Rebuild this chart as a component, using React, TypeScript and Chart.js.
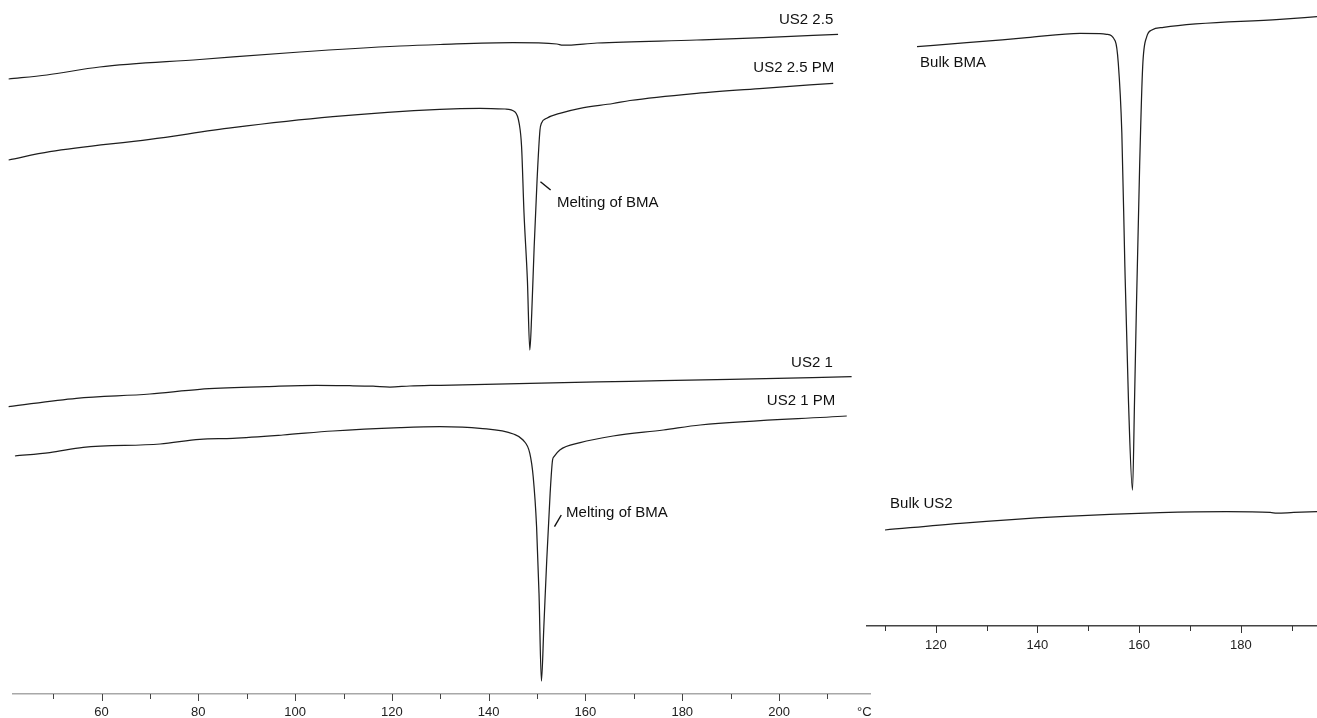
import React, { useEffect, useRef } from "react";
import { Chart, registerables } from "chart.js";

Chart.register(...registerables);

// ---------- Left panel (°C vs. arbitrary heat-flow units, exo up) ----------
const us2_25_T = [40.8, 48.7, 59.6, 80.3, 101.0, 121.7, 130.0, 145.0, 154.1, 155.3, 162.4, 183.0, 196.7, 212.2];
const us2_25_V = [621, 625, 633, 640.5, 648, 654, 655.5, 657.3, 656, 654.8, 657, 660, 662.3, 665.7];

const us2_25pm_T = [40.8, 49.3, 70.0, 87.1, 107.8, 129.9, 138.2, 143.4, 145.4, 146.3, 146.8, 147.3, 148.0, 148.5, 148.9, 149.4, 150.0, 150.6, 150.9, 152.0, 154.7, 158.9, 165.7, 169.2, 183.0, 196.7, 211.2];
const us2_25pm_V = [540, 548.3, 560.7, 572.3, 583.3, 590.7, 591.7, 591, 588.3, 576.7, 553.3, 487, 420, 350, 387, 453.3, 520, 570, 576.7, 581.7, 586.7, 591.7, 596.5, 599.5, 606.7, 611.7, 616.7];

const us2_1_T = [40.8, 54.8, 70.0, 80.3, 94.1, 104.4, 111.3, 116.1, 119.6, 123.7, 129.9, 148.5, 169.2, 189.9, 215.0];
const us2_1_V = [293.3, 301.7, 306, 310.7, 313.3, 314.7, 314.3, 313.8, 313.0, 314, 314.7, 316.7, 318.7, 320.7, 323.3];

const us2_1pm_T = [42.1, 49.3, 56.2, 72.1, 80.3, 87.1, 97.5, 107.8, 121.7, 129.9, 138.2, 145.1, 147.1, 148.5, 149.2, 149.9, 150.4, 150.9, 151.4, 152.0, 152.7, 153.2, 153.5, 154.7, 158.9, 165.7, 176.1, 183.7, 214.0];
const us2_1pm_V = [244, 247.3, 252.7, 256, 260.7, 261.7, 265, 269, 272.3, 273.3, 271.7, 266, 260, 246.7, 223.3, 173.3, 106.7, 19, 73.3, 140, 206.7, 240, 243.3, 250, 257.3, 264, 270, 275, 284];

// ---------- Right panel ----------
const bulkBMA_T = [116.3, 126.1, 137.9, 148.4, 152.3, 153.6, 155.3, 155.9, 156.6, 157.2, 157.9, 158.7, 159.1, 159.5, 160.1, 160.7, 161.5, 162.5, 164.8, 187.7, 195.0];
const bulkBMA_V = [653.3, 657.3, 662.3, 666.7, 666.4, 665.7, 659, 637, 567, 433, 300, 210, 300, 400, 533.3, 633.3, 663.3, 670, 672.7, 680.7, 683.3];

const bulkUS2_T = [110.0, 124.8, 144.5, 164.1, 177.2, 185.8, 187.1, 190.4, 195.0];
const bulkUS2_V = [170, 176.7, 183.3, 187.3, 188.3, 187.6, 186.8, 187.6, 188.3];

// ---------- Axis ranges and text ----------
const leftRange = { min: 41.7, max: 218.8, ymin: 6, ymax: 700 };
const rightRange = { min: 106.4, max: 195.0, ymin: 74, ymax: 700 };
const unitLabel = "°C";

type Note = { text: string; x: number; y: number; align: CanvasTextAlign };
type Leader = { x1: number; y1: number; x2: number; y2: number };

const leftNotes: Note[] = [
  { text: "US2 2.5", x: 211.2, y: 680, align: "right" },
  { text: "US2 2.5 PM", x: 211.4, y: 632.3, align: "right" },
  { text: "Melting of BMA", x: 154.1, y: 496.7, align: "left" },
  { text: "US2 1", x: 211.1, y: 337.3, align: "right" },
  { text: "US2 1 PM", x: 211.6, y: 299.3, align: "right" },
  { text: "Melting of BMA", x: 156.0, y: 187.3, align: "left" },
];
const leftLeaders: Leader[] = [
  { x1: 150.7, y1: 518.3, x2: 152.8, y2: 510 },
  { x1: 155.0, y1: 185, x2: 153.6, y2: 173.3 },
];
const rightNotes: Note[] = [
  { text: "Bulk BMA", x: 116.9, y: 636.7, align: "left" },
  { text: "Bulk US2", x: 111.0, y: 195.7, align: "left" },
];

const pts = (t: number[], v: number[]) => t.map((x, i) => ({ x, y: v[i] }));

const lineDs = (t: number[], v: number[]) => ({
  data: pts(t, v),
  borderColor: "#1e1e1e",
  borderWidth: 1.25,
  pointRadius: 0,
  fill: false,
  clip: false as const,
  cubicInterpolationMode: "monotone" as const,
});

const annotPlugin = (notes: Note[], leaders: Leader[], unit: string | null, tickColor: string) => ({
  id: "annot",
  afterDraw(chart: any) {
    const { ctx, scales } = chart;
    const x = scales.x;
    const y = scales.y;
    ctx.save();
    // tick marks: long for labelled (major), short for minor
    ctx.strokeStyle = tickColor;
    ctx.lineWidth = 1;
    x.ticks.forEach((t: any) => {
      const px = Math.round(x.getPixelForValue(t.value)) + 0.5;
      const len = t.value % 20 === 0 ? 7 : 5;
      ctx.beginPath();
      ctx.moveTo(px, x.top);
      ctx.lineTo(px, x.top + len);
      ctx.stroke();
    });
    ctx.fillStyle = "#111";
    ctx.font = '15px "Liberation Sans", Arial, sans-serif';
    ctx.textBaseline = "middle";
    notes.forEach((n) => {
      ctx.textAlign = n.align;
      ctx.fillText(n.text, x.getPixelForValue(n.x), y.getPixelForValue(n.y));
    });
    ctx.strokeStyle = "#111";
    ctx.lineWidth = 1.4;
    leaders.forEach((l) => {
      ctx.beginPath();
      ctx.moveTo(x.getPixelForValue(l.x1), y.getPixelForValue(l.y1));
      ctx.lineTo(x.getPixelForValue(l.x2), y.getPixelForValue(l.y2));
      ctx.stroke();
    });
    if (unit) {
      ctx.font = '13px "Liberation Sans", Arial, sans-serif';
      ctx.textAlign = "left";
      ctx.fillStyle = "#222";
      ctx.fillText(unit, x.right - 13, x.top + 18.5);
    }
    ctx.restore();
  },
});

function makeOptions(r: typeof leftRange, axisH: number, tl: number, pad: number, borderColor: string, padding: any) {
  return {
    responsive: false,
    maintainAspectRatio: false,
    animation: false as const,
    layout: { padding },
    plugins: { legend: { display: false }, tooltip: { enabled: false }, title: { display: false } },
    scales: {
      x: {
        type: "linear" as const,
        min: r.min,
        max: r.max,
        afterFit: (axis: any) => {
          axis.height = axisH;
        },
        grid: { display: true, drawOnChartArea: false, drawTicks: true, tickLength: tl, tickColor: "rgba(0,0,0,0)", color: "rgba(0,0,0,0)" },
        border: { display: true, color: borderColor, width: 1.5 },
        ticks: {
          stepSize: 10,
          includeBounds: false,
          autoSkip: false,
          maxRotation: 0,
          padding: pad,
          color: "#222",
          font: { family: '"Liberation Sans", Arial, sans-serif', size: 13 },
          callback: (v: any) => (Number(v) % 20 === 0 ? String(v) : ""),
        },
      },
      y: { type: "linear" as const, display: false, min: r.ymin, max: r.ymax },
    },
  };
}

function Panel(props: {
  width: number;
  height: number;
  left: number;
  datasets: any[];
  options: any;
  plugin: any;
}) {
  const ref = useRef<HTMLCanvasElement | null>(null);
  useEffect(() => {
    if (!ref.current) return;
    const chart = new Chart(ref.current, {
      type: "line",
      data: { datasets: props.datasets },
      options: props.options,
      plugins: [props.plugin],
    } as any);
    return () => chart.destroy();
  }, []);
  return (
    <canvas
      ref={ref}
      width={props.width}
      height={props.height}
      style={{ position: "absolute", left: props.left, top: 0, width: props.width, height: props.height, display: "block" }}
    />
  );
}

export default function App() {
  const leftDatasets = [
    lineDs(us2_25_T, us2_25_V),
    lineDs(us2_25pm_T, us2_25pm_V),
    lineDs(us2_1_T, us2_1_V),
    lineDs(us2_1pm_T, us2_1pm_V),
  ];
  const rightDatasets = [lineDs(bulkBMA_T, bulkBMA_V), lineDs(bulkUS2_T, bulkUS2_V)];

  const leftOptions = makeOptions(leftRange, 24, 7, 4, "#a8a8a8", { left: 13, right: 10, top: 0, bottom: 0 });
  const rightOptions = makeOptions(rightRange, 24, 6, 6, "#444", { left: 6.7, right: 0, top: 0, bottom: 68 });

  return (
    <div style={{ position: "absolute", left: 0, top: 0, width: 1317, height: 718, background: "#fff", overflow: "hidden" }}>
      <Panel width={880} height={718} left={0} datasets={leftDatasets} options={leftOptions} plugin={annotPlugin(leftNotes, leftLeaders, unitLabel, "#444")} />
      <Panel width={457} height={718} left={860} datasets={rightDatasets} options={rightOptions} plugin={annotPlugin(rightNotes, [], null, "#333")} />
    </div>
  );
}
